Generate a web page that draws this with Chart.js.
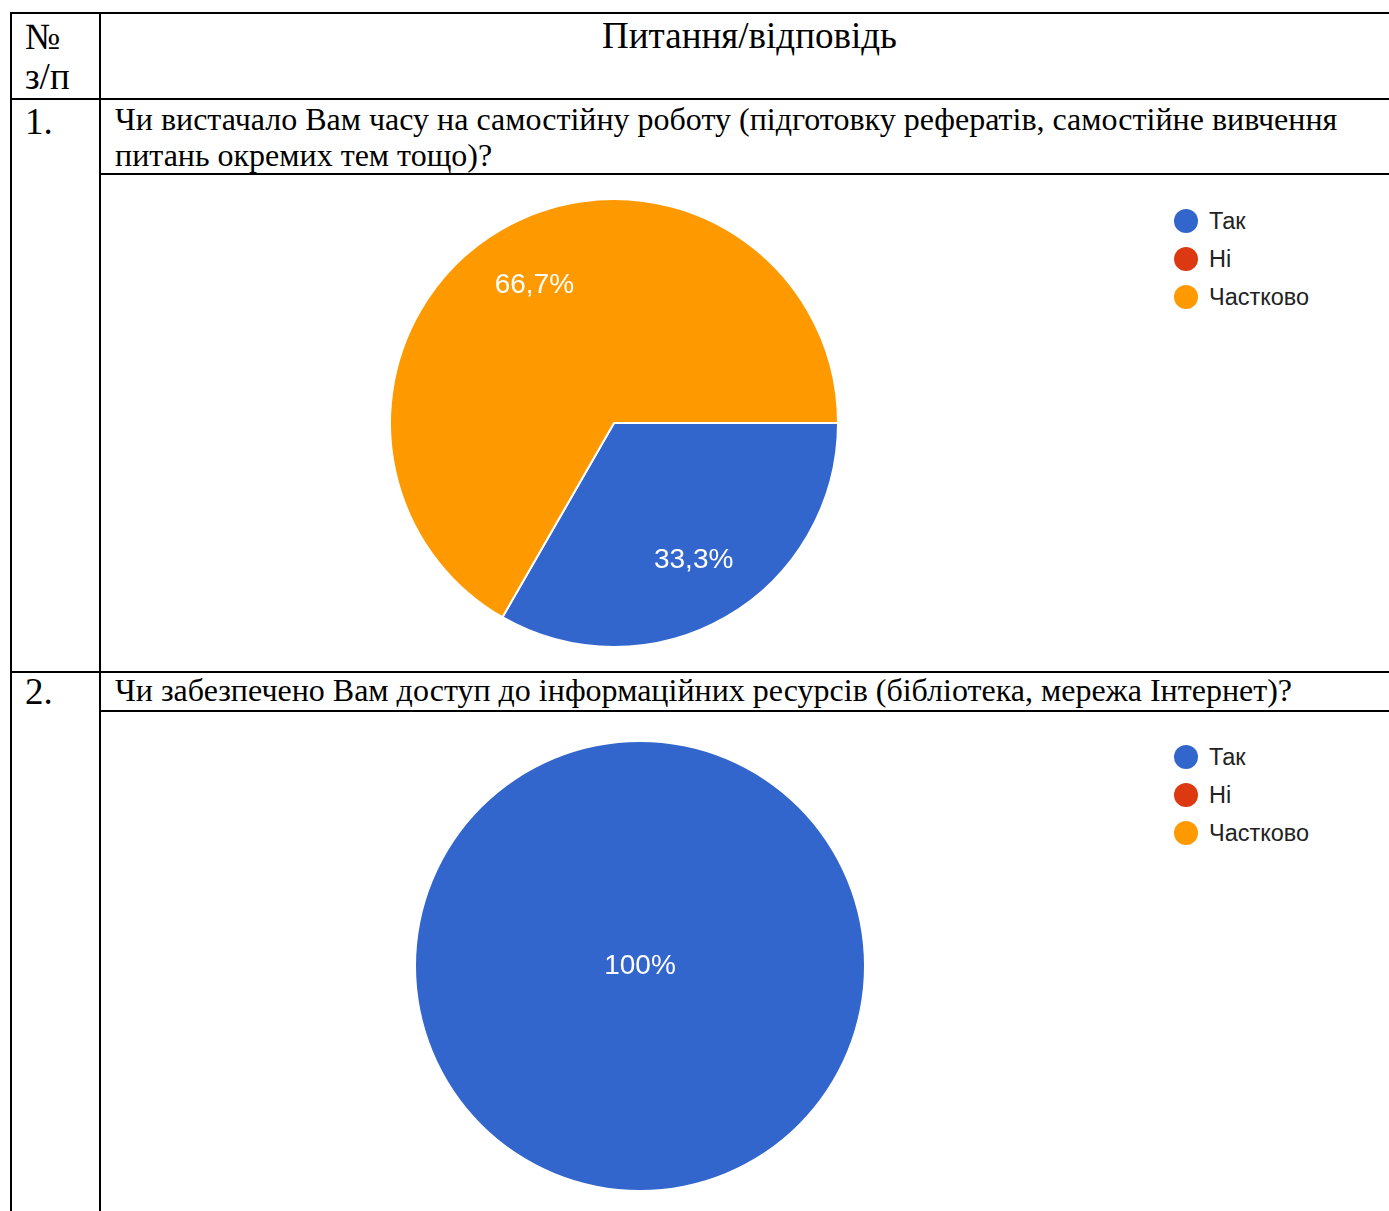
<!DOCTYPE html>
<html>
<head>
<meta charset="utf-8">
<script src="https://cdn.jsdelivr.net/npm/chart.js@4.4.1/dist/chart.umd.min.js"></script>
<style>
  body { margin: 0; background: #fff; width: 1389px; height: 1211px; overflow: hidden; position: relative; }
  .ln { position: absolute; background: #000; }
  .txt { position: absolute; font-family: "Liberation Serif", "Times New Roman", serif; font-size: 32px; line-height: 36px; color: #000; white-space: nowrap; }
  .big { font-size: 37px; line-height: 44px; }
  .chartbox { position: absolute; width: 460px; height: 460px; }
  .legend { position: absolute; font-family: "Liberation Sans", Arial, sans-serif; font-size: 23.5px; color: #222; }
  .legend div { height: 38px; display: flex; align-items: center; }
  .legend span.dot { display: inline-block; width: 24px; height: 24px; border-radius: 50%; margin-right: 11px; }
</style>
</head>
<body>
<!-- table grid -->
<div class="ln" style="left:10px;top:12px;width:1379px;height:2px"></div>
<div class="ln" style="left:10px;top:12px;width:2px;height:1199px"></div>
<div class="ln" style="left:99px;top:12px;width:2px;height:1199px"></div>
<div class="ln" style="left:10px;top:98px;width:1379px;height:2px"></div>
<div class="ln" style="left:100px;top:173px;width:1289px;height:2px"></div>
<div class="ln" style="left:10px;top:671px;width:1379px;height:2px"></div>
<div class="ln" style="left:100px;top:710px;width:1289px;height:2px"></div>

<div class="txt big" style="left:25px;top:15px">№</div>
<div class="txt big" style="left:25px;top:55px">з/п</div>
<div class="txt big" style="left:100px;top:14px;width:1299px;text-align:center">Питання/відповідь</div>
<div class="txt big" style="left:25px;top:100px">1.</div>
<div class="txt" style="left:115px;top:101px">Чи вистачало Вам часу на самостійну роботу (підготовку рефератів, самостійне вивчення<br>питань окремих тем тощо)?</div>
<div class="txt big" style="left:25px;top:670px">2.</div>
<div class="txt" style="left:115px;top:672px">Чи забезпечено Вам доступ до інформаційних ресурсів (бібліотека, мережа Інтернет)?</div>

<div class="chartbox" style="left:384px;top:193px"><canvas id="pie1"></canvas></div>
<div class="legend" id="legend1" style="left:1174px;top:202px"></div>
<div class="chartbox" style="left:410px;top:736px"><canvas id="pie2"></canvas></div>
<div class="legend" id="legend2" style="left:1174px;top:738px"></div>

<script>
const categories = ['Так', 'Ні', 'Частково'];
const q1Values = [33.3, 0, 66.7];
const q2Values = [100, 0, 0];
const sliceColors = ['#3366cc', '#dc3912', '#ff9900'];

// percent labels inside slices, like google forms
const sliceLabels = {
  id: 'sliceLabels',
  afterDatasetsDraw(chart) {
    const ctx = chart.ctx;
    const meta = chart.getDatasetMeta(0);
    const vals = chart.data.datasets[0].data;
    ctx.save();
    ctx.fillStyle = '#fff';
    ctx.font = '28px "Liberation Sans", Arial, sans-serif';
    ctx.textAlign = 'center';
    ctx.textBaseline = 'middle';
    meta.data.forEach(function(arc, i) {
      if (!vals[i]) return;
      const p = arc.getProps(['x', 'y', 'startAngle', 'endAngle', 'outerRadius'], true);
      let x = p.x, y = p.y;
      if (vals[i] < 100) {
        const mid = (p.startAngle + p.endAngle) / 2;
        x += Math.cos(mid) * p.outerRadius * 0.71;
        y += Math.sin(mid) * p.outerRadius * 0.71;
      }
      ctx.fillText(String(vals[i]).replace('.', ',') + '%', x, y);
    });
    ctx.restore();
  }
};

function makePie(id, values, border) {
  return new Chart(document.getElementById(id), {
    type: 'pie',
    data: {
      labels: categories,
      datasets: [{
        data: values,
        backgroundColor: sliceColors,
        borderColor: '#fff',
        borderWidth: border
      }]
    },
    options: {
      responsive: true,
      maintainAspectRatio: false,
      animation: false,
      rotation: 90,
      radius: 224,
      plugins: { legend: { display: false }, tooltip: { enabled: false } }
    },
    plugins: [sliceLabels]
  });
}

function makeLegend(id) {
  const el = document.getElementById(id);
  categories.forEach(function(c, i) {
    const row = document.createElement('div');
    row.innerHTML = '<span class="dot" style="background:' + sliceColors[i] + '"></span>' + c;
    el.appendChild(row);
  });
}

makePie('pie1', q1Values, 2);
makePie('pie2', q2Values, 0);
makeLegend('legend1');
makeLegend('legend2');
</script>
</body>
</html>
